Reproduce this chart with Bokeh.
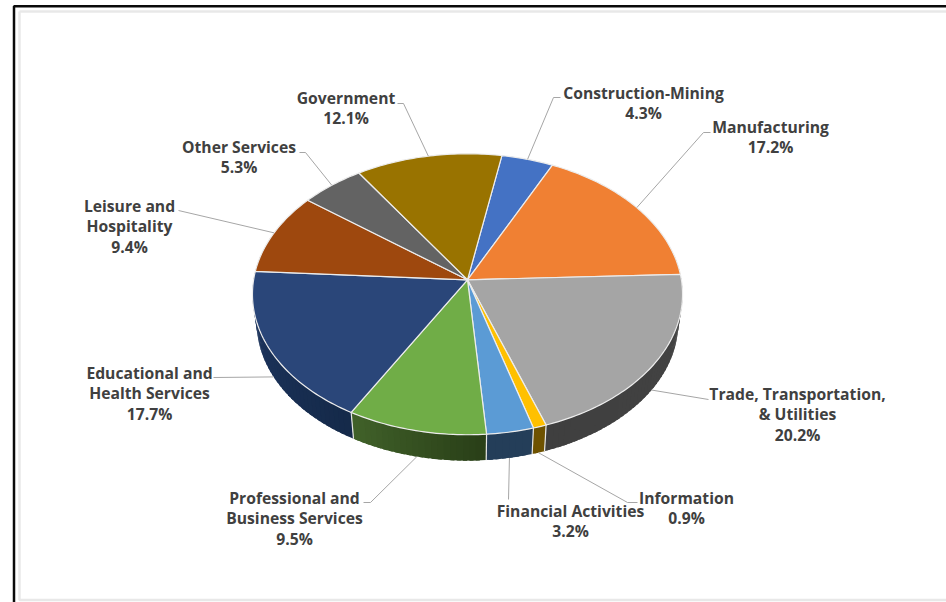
import math
from bokeh.embed import file_html
from bokeh.models import Range1d
from bokeh.plotting import figure
from bokeh.resources import INLINE
from bokeh.core.properties import value

# ---- data ----
categories = ["Construction-Mining", "Manufacturing", "Trade, Transportation, & Utilities",
              "Information", "Financial Activities", "Professional and Business Services",
              "Educational and Health Services", "Leisure and Hospitality", "Other Services", "Government"]
shares = [4.3, 17.2, 20.2, 0.9, 3.2, 9.5, 17.7, 9.4, 5.3, 12.1]
label_lines = [["Construction-Mining"], ["Manufacturing"], ["Trade, Transportation,", "& Utilities"],
               ["Information"], ["Financial Activities"], ["Professional and", "Business Services"],
               ["Educational and", "Health Services"], ["Leisure and", "Hospitality"],
               ["Other Services"], ["Government"]]

# ---- styles ----
top_colors = ["#4472C4", "#F08033", "#A5A5A5", "#FFC000", "#5B9BD5", "#70AD47",
              "#2A4679", "#9E480E", "#636363", "#997300"]
wall_from = ["#29447a", "#8f4c1e", "#444444", "#6e5200", "#243e59", "#2a4018", "#152a4a", "#5f2b08", "#3b3b3b", "#5c4500"]
wall_to   = ["#29447a", "#8f4c1e", "#3f3f3f", "#6e5200", "#243e59", "#41622a", "#1f3763", "#5f2b08", "#3b3b3b", "#5c4500"]

# ---- layout (pixels of the picture) ----
W, H = 946, 602
CX, CY = 467.0, 279.3
A, C, B = 213.9, 139.0, 0.103      # perspective disc
START = 10.2                        # degrees, clockwise from the back
DROP, SHRINK = 29.0, 0.98           # lower rim of the wall

label_xy = [(643, 92), (770, 126), (797, 393), (686, 497), (570, 510),
            (294, 497), (149, 372), (129, 205), (238.5, 146), (345.5, 97)]
LINE_H = 20.7
# elbow(s) of each leader, from the label outwards
leader_knots = [[(560, 97), (553, 97)], [(710, 132), (703, 132)], [(708, 399)],
                [(637, 502), (627, 502)], [(508, 499)], [(363, 502), (370, 502)],
                [(213, 377)], [(178, 210)], [(299, 152), (305, 152)], [(397, 103), (403, 103)]]


def rim(deg, lower=False):
    t = math.radians(deg)
    u, v = math.sin(t), -math.cos(t)
    d = 1 - B * v
    x, y = A * u / d, C * v / d
    if lower:
        return CX + SHRINK * x, CY + DROP + SHRINK * y
    return CX + x, CY + y


def mix(c1, c2, f):
    a = [int(c1[i:i + 2], 16) for i in (1, 3, 5)]
    b = [int(c2[i:i + 2], 16) for i in (1, 3, 5)]
    return "#%02x%02x%02x" % tuple(round(p + (q - p) * f) for p, q in zip(a, b))


p = figure(width=W, height=H, x_range=Range1d(0, W), y_range=Range1d(H, 0),
           toolbar_location=None, output_backend="svg", min_border=0,
           outline_line_color=None, background_fill_color="white")
p.axis.visible = False
p.grid.visible = False

# frames
p.line([19, 19, W], [11, 599.5, 599.5], line_color="#e8e8e8", line_width=2.5)
p.line([19, W], [11, 11], line_color="#e8e8e8", line_width=2.5)
p.line([13.5, 13.5, W], [H, 5.8, 5.8], line_color="#0a0a0a", line_width=2.5)

# slice angles from the shares
total = sum(shares)
edges = [START]
for s in shares:
    edges.append(edges[-1] + 360 * s / total)

# wall, as thin overlapping quads so that it can be shaded
xs, ys, cs = [], [], []
for i, col in enumerate(top_colors):
    a0, a1 = edges[i], edges[i + 1]
    lo, hi = max(a0, 80), min(a1, 280)
    if hi <= lo:
        continue
    n = max(1, int((hi - lo) / 1.5))
    for k in range(n):
        b0 = lo + (hi - lo) * k / n
        b1 = min(hi, lo + (hi - lo) * (k + 1) / n + 1.0)
        pts = [rim(b0), rim(b1), rim(b1, True), rim(b0, True)]
        xs.append([q[0] for q in pts])
        ys.append([q[1] for q in pts])
        cs.append(mix(wall_from[i], wall_to[i], k / max(1, n - 1)))
p.patches(xs[::-1], ys[::-1], fill_color=cs[::-1], line_color=None)

# wall separators
for e in edges[1:-1]:
    if 90 < e < 270:
        a, b = rim(e), rim(e, True)
        p.line([a[0], b[0]], [a[1], b[1]], line_color="#e6e6e6", line_width=1.2)

# top face
tx, ty = [], []
for i in range(len(shares)):
    a0, a1 = edges[i], edges[i + 1]
    n = max(2, int((a1 - a0) / 1.0))
    pts = [rim(a0 + (a1 - a0) * k / n) for k in range(n + 1)]
    tx.append([CX] + [q[0] for q in pts])
    ty.append([CY] + [q[1] for q in pts])
p.patches(tx, ty, fill_color=top_colors, line_color="#ececec", line_width=1.2, line_join="round")

# leaders
for i in range(len(shares)):
    mid = (edges[i] + edges[i + 1]) / 2
    mid %= 360
    on_wall = 100 < mid < 260
    end = rim(mid, on_wall)
    pts = leader_knots[i] + [end]
    p.line([q[0] for q in pts], [q[1] for q in pts], line_color="#a6a6a6", line_width=1)

# labels
lx, ly, lt = [], [], []
for i, lines in enumerate(label_lines):
    x, y = label_xy[i]
    for j, t in enumerate(lines + [f"{shares[i]:.1f}%"]):
        lx.append(x)
        ly.append(y + j * LINE_H)
        lt.append(t)
p.text(lx, ly, text=lt, text_align="center", text_baseline="middle",
       text_font=value("Open Sans"), text_font_style="bold", text_font_size="15.7px",
       text_color="#404040")

open("out.html", "w").write(file_html(p, INLINE))
